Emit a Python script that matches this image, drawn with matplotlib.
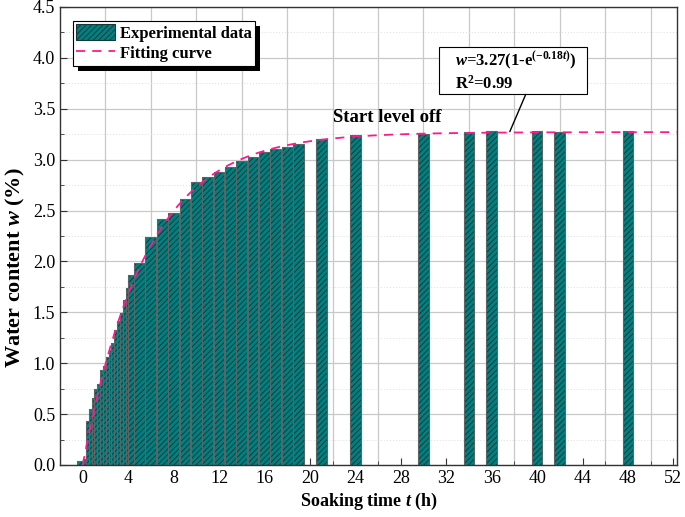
import matplotlib
matplotlib.use("Agg")
import matplotlib.pyplot as plt
import numpy as np
from matplotlib.patches import Patch, Rectangle
from matplotlib.lines import Line2D
from matplotlib.transforms import IdentityTransform
from matplotlib.ticker import MultipleLocator, FixedLocator, FormatStrFormatter

# soaking time (h) and measured water content (%)
time_h = [0, 0.5, 0.75, 1.0, 1.25, 1.5, 1.75, 2.0, 2.25, 2.5, 2.75, 3.0,
          3.25, 3.5, 3.75, 4.0, 4.25, 4.5, 5, 6, 7, 8, 9, 10, 11, 12, 13,
          14, 15, 16, 17, 18, 19, 21, 24, 30, 34, 36, 40, 42, 48]
water = [0.04, 0.06, 0.43, 0.55, 0.66, 0.75, 0.80, 0.93, 0.97, 1.06, 1.13,
         1.20, 1.33, 1.41, 1.49, 1.62, 1.74, 1.87, 1.98, 2.24, 2.42, 2.48,
         2.61, 2.78, 2.83, 2.875, 2.93, 2.99, 3.03, 3.07, 3.10, 3.12, 3.15,
         3.20, 3.24, 3.255, 3.275, 3.285, 3.285, 3.275, 3.28]

# fitted model w = a(1 - exp(b t))
fit_a = 3.27
fit_b = -0.18

x_ticks = list(range(0, 53, 4))
y_ticks = [0.0, 0.5, 1.0, 1.5, 2.0, 2.5, 3.0, 3.5, 4.0, 4.5]

teal = "#008080"
hatch_col = "#163838"
pink = "#ff1a8c"

plt.rcParams["font.family"] = ["Liberation Serif", "DejaVu Serif"]
plt.rcParams["mathtext.fontset"] = "custom"
plt.rcParams["mathtext.rm"] = "Liberation Serif:bold"
plt.rcParams["mathtext.it"] = "Liberation Serif:italic:bold"
plt.rcParams["mathtext.bf"] = "Liberation Serif:bold"
plt.rcParams["hatch.linewidth"] = 0.7

fig = plt.figure(figsize=(6.85, 5.17), dpi=100)
ax = fig.add_axes([0.0876, 0.1006, 0.9004, 0.886])

# bars overlap in the dense part, later ones sit on top
for i, (t, w) in enumerate(zip(time_h, water)):
    z = 2 + 0.01 * i
    ax.bar(t, w, width=0.95, color=teal, edgecolor=hatch_col, hatch="//////",
           linewidth=0, zorder=z)
    ax.bar(t, w, width=0.95, fill=False, edgecolor="#5a6666", linewidth=0.8,
           zorder=z + 0.005)

tt = np.linspace(0, 52.3, 300)
ax.plot(tt, fit_a * (1 - np.exp(fit_b * tt)), color=pink, lw=1.3,
        dashes=(5, 4), zorder=4)

ax.set_xlim(-2, 52.3)
ax.set_ylim(0, 4.5)
ax.xaxis.set_major_locator(FixedLocator(x_ticks))
ax.xaxis.set_minor_locator(MultipleLocator(2))
ax.yaxis.set_major_locator(FixedLocator(y_ticks))
ax.yaxis.set_minor_locator(MultipleLocator(0.25))
ax.yaxis.set_major_formatter(FormatStrFormatter("%.1f"))
ax.tick_params(which="both", direction="in", labelsize=13, color="#333333")
ax.tick_params(which="major", length=5)
ax.tick_params(which="minor", length=3)

# grid
for gx in range(2, 53, 4):
    ax.axvline(gx, color="#c8c8c8", lw=0.9, zorder=0)
ax.grid(True, which="major", axis="y", color="#c8c8c8", lw=0.9, zorder=0)
ax.grid(True, which="minor", axis="y", color="#dddddd", lw=0.7,
        ls=(0, (1, 2)), zorder=0)
ax.set_axisbelow(True)
for s in ax.spines.values():
    s.set_color("#333333")
    s.set_linewidth(1.0)

ax.set_xlabel(r"Soaking time $t$ (h)", fontsize=13, fontweight="bold",
              labelpad=3)
ax.set_ylabel(r"Water content $w$ (%)", fontsize=16, fontweight="bold")
ax.yaxis.set_label_coords(-0.053, 0.43)

handles = [Patch(facecolor=teal, edgecolor=hatch_col, hatch="//////",
                 linewidth=0.8),
           Line2D([0], [0], color=pink, lw=1.3, dashes=(5, 4))]
leg = ax.legend(handles, ["Experimental data", "Fitting curve"],
                loc="upper left", bbox_to_anchor=(0.021, 0.969),
                borderaxespad=0, prop={"weight": "bold", "size": 12},
                frameon=True, fancybox=False, edgecolor="black",
                framealpha=1, borderpad=0.2, handlelength=2.3,
                handleheight=1.1, handletextpad=0.3, labelspacing=0.15)
leg.get_frame().set_linewidth(0.8)
leg.set_zorder(10)

fig.canvas.draw()
bb = leg.get_window_extent()
shadow = Rectangle((bb.x0 + 5, bb.y0 - 5), bb.width, bb.height,
                   transform=IdentityTransform(), facecolor="black",
                   edgecolor="none", zorder=9, clip_on=False)
ax.add_artist(shadow)

# equation box with leader line to the curve
ax.add_patch(Rectangle((31.4, 3.64), 13.0, 0.47, facecolor="white",
                       edgecolor="black", lw=0.8, zorder=8))
ax.text(32.75, 3.97, r"$w$=3.27(1-e$^{(-0.18t)}$)", fontsize=12,
        fontweight="bold", ha="left", va="center", zorder=9)
ax.text(32.75, 3.75, r"R$^{2}$=0.99", fontsize=12, fontweight="bold",
        ha="left", va="center", zorder=9)
ax.annotate("", xy=(37.6, 3.275), xytext=(39.0, 3.64),
            arrowprops=dict(arrowstyle="-", color="black", lw=1,
                            shrinkA=0, shrinkB=0), zorder=8)

ax.text(22.0, 3.41, "Start level off", fontsize=13.5, fontweight="bold",
        ha="left", va="center", zorder=8)

fig.savefig("out.png", dpi=100)
